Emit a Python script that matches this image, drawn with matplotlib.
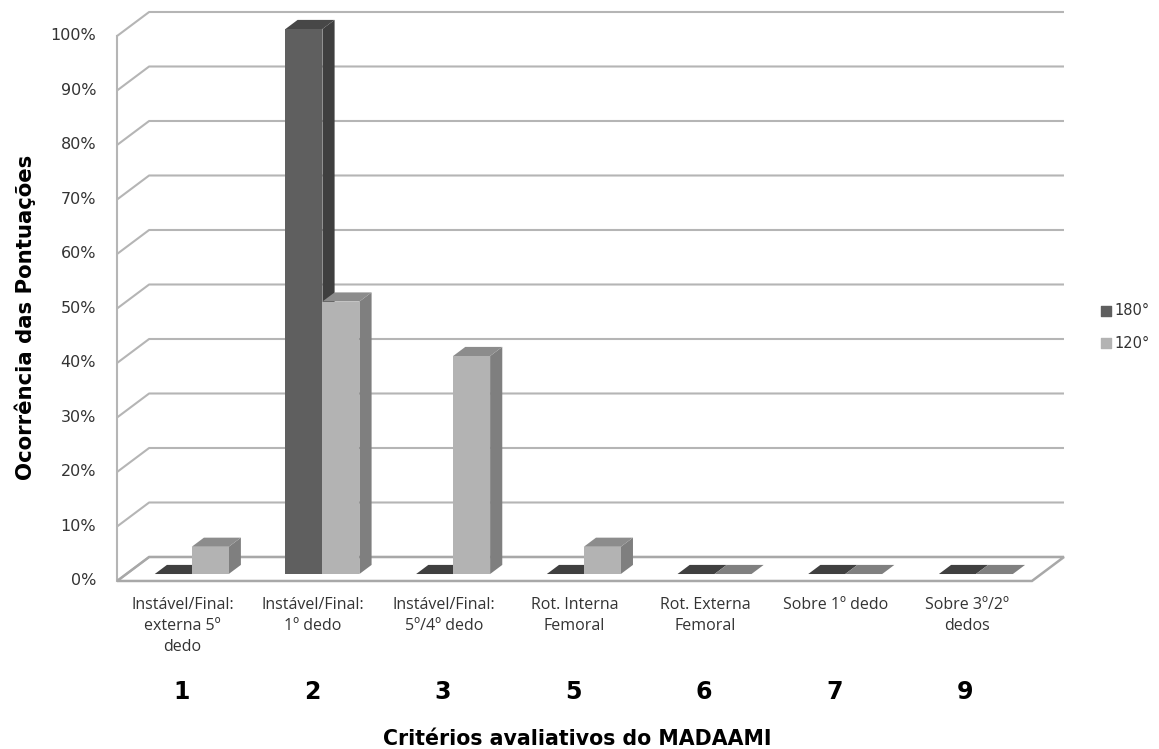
import matplotlib
matplotlib.use("Agg")
import matplotlib.pyplot as plt
from matplotlib.patches import Polygon

# ---- data -------------------------------------------------------------
category_numbers = ["1", "2", "3", "5", "6", "7", "9"]
category_labels = [
    "Instável/Final:\nexterna 5º\ndedo",
    "Instável/Final:\n1º dedo",
    "Instável/Final:\n5º/4º dedo",
    "Rot. Interna\nFemoral",
    "Rot. Externa\nFemoral",
    "Sobre 1º dedo",
    "Sobre 3º/2º\ndedos",
]
series_names = ["180°", "120°"]
pct_180 = [0, 100, 0, 0, 0, 0, 0]
pct_120 = [5, 50, 40, 5, 0, 0, 0]
y_ticks = list(range(0, 101, 10))

# ---- styling ----------------------------------------------------------
FRONT = ["#5f5f5f", "#b3b3b3"]
SIDE = ["#3f3f3f", "#7f7f7f"]
TOP = ["#474747", "#8c8c8c"]
FLAT = ["#404040", "#808080"]
GRID = "#b5b5b5"

# oblique depth direction (full wall depth) in data units
DX, DY = 0.245, 4.40
BAR_D0, BAR_D1 = 0.29, 0.67    # bar front / back depth fractions
BAR_W = 0.283

fig = plt.figure(figsize=(11.59, 7.49), dpi=100)
ax = fig.add_axes([0, 0, 1, 1])
ax.set_xlim(-1.396, 7.472)
ax.set_ylim(-30.83, 106.6)
ax.axis("off")

n = len(category_numbers)
x_left, x_right = -0.5, n - 0.5


def P(x, y, d):
    return (x + d * DX, y + d * DY)


# walls and gridlines
for t in y_ticks:
    ax.plot([P(x_left, t, 0)[0], P(x_left, t, 1)[0], P(x_right, t, 1)[0]],
            [P(x_left, t, 0)[1], P(x_left, t, 1)[1], P(x_right, t, 1)[1]],
            color=GRID, lw=1.5, solid_capstyle="butt", zorder=1)
ax.plot([x_left, x_left], [0, 100], color=GRID, lw=1.5, zorder=1)
# floor outline
floor = [P(x_left, 0, 0), P(x_right, 0, 0), P(x_right, 0, 1), P(x_left, 0, 1)]
ax.add_patch(Polygon(floor, closed=True, fill=False, edgecolor="#a8a8a8",
                     lw=1.8, zorder=1))


def bar(x0, h, s, z):
    x1 = x0 + BAR_W
    if h <= 0:
        ax.add_patch(Polygon([P(x0, 0, BAR_D0), P(x1, 0, BAR_D0),
                              P(x1, 0, BAR_D1), P(x0, 0, BAR_D1)],
                             closed=True, facecolor=FLAT[s], edgecolor="none",
                             zorder=z))
        return
    front = [P(x0, 0, BAR_D0), P(x1, 0, BAR_D0), P(x1, h, BAR_D0), P(x0, h, BAR_D0)]
    side = [P(x1, 0, BAR_D0), P(x1, 0, BAR_D1), P(x1, h, BAR_D1), P(x1, h, BAR_D0)]
    top = [P(x0, h, BAR_D0), P(x1, h, BAR_D0), P(x1, h, BAR_D1), P(x0, h, BAR_D1)]
    ax.add_patch(Polygon(side, closed=True, facecolor=SIDE[s], edgecolor="none", zorder=z))
    ax.add_patch(Polygon(top, closed=True, facecolor=TOP[s], edgecolor="none", zorder=z))
    ax.add_patch(Polygon(front, closed=True, facecolor=FRONT[s], edgecolor="none", zorder=z))


z = 2
for i in range(n):
    bar(i - BAR_W, pct_180[i], 0, z)
    z += 1
    bar(i, pct_120[i], 1, z)
    z += 1

# y tick labels
for t in y_ticks:
    ax.text(-0.661, t, f"{t}%", ha="right", va="center", fontsize=11.5,
            color="#333333", family="DejaVu Sans")

# category labels and numbers
for i in range(n):
    ax.text(i, -3.0, category_labels[i], ha="center", va="top",
            fontsize=11.5, family="Open Sans", color="#333333", linespacing=1.42)
    ax.text(i - 0.01, -20.4, category_numbers[i], ha="center", va="center",
            fontsize=17, fontweight="bold", family="DejaVu Sans", color="black")

ax.text((x_left + x_right) / 2 + 0.02, -29.0, "Critérios avaliativos do MADAAMI",
        ha="center", va="center", fontsize=14.8, fontweight="bold",
        family="DejaVu Sans", color="black")
ax.text(-1.205, 48.4, "Ocorrência das Pontuações", ha="center", va="center",
        rotation=90, fontsize=15.3, fontweight="bold", family="DejaVu Sans",
        color="black")

# legend
for k, (name, col) in enumerate(zip(series_names, FRONT)):
    yk = 49.6 - 6.0 * k
    ax.scatter([7.07], [yk], marker="s", s=55, color=col, zorder=5)
    ax.text(7.132, yk, name, ha="left", va="center", fontsize=10.5,
            family="DejaVu Sans", color="#333333")

fig.savefig("out.png", dpi=100)
